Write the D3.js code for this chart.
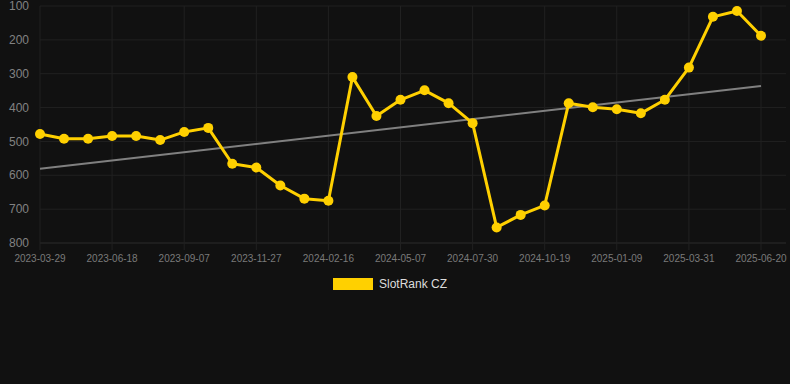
<!DOCTYPE html>
<html><head><meta charset="utf-8">
<script src="https://cdn.jsdelivr.net/npm/d3@7"></script>
<style>html,body{margin:0;padding:0;background:#111111;}svg{display:block;}</style>
</head><body>
<svg id="c" width="790" height="384"></svg>
<script>
const tickLabels = ["2023-03-29","2023-06-18","2023-09-07","2023-11-27","2024-02-16","2024-05-07","2024-07-30","2024-10-19","2025-01-09","2025-03-31","2025-06-20"];
const values = [478,492,492,484,484,496,472,460,566,577,630,669,675,310,425,377,349,387,446,754,717,689,387,399,405,417,377,282,132,115,188];
const trendEnds = [581,336];
const yTicks = [100,200,300,400,500,600,700,800];
const seriesName = "SlotRank CZ";

(function(){
const svg = d3.select("#c");
const mLeft = 40, mRight = 761, mTop = 6, mBottom = 243, gridRight = 786;
const idx = d3.range(values.length);
const x = d3.scalePoint().domain(idx).range([mLeft, mRight]);
const y = d3.scaleLinear().domain([100,800]).range([mTop, mBottom]);

// grid
const g = svg.append("g");
g.selectAll("line.h").data(yTicks).join("line")
  .attr("x1", mLeft).attr("x2", gridRight)
  .attr("y1", d => y(d)).attr("y2", d => y(d))
  .attr("stroke", d => d===800 ? "#2c2c2c" : "#212121").attr("stroke-width", 1);
const labelIdx = tickLabels.map((_, i) => i*3);
g.selectAll("line.v").data(labelIdx).join("line")
  .attr("x1", d => x(d)).attr("x2", d => x(d))
  .attr("y1", mTop).attr("y2", mBottom + 7)
  .attr("stroke", "#212121").attr("stroke-width", 1);

// y labels
svg.append("g").selectAll("text").data(yTicks).join("text")
  .attr("x", 29).attr("y", d => y(d)).attr("dy", "0.35em")
  .attr("text-anchor", "end")
  .attr("font-family", "Liberation Sans, Arial, sans-serif").attr("font-size", 12)
  .attr("fill", "#828282").text(d => d);

// x labels
svg.append("g").selectAll("text").data(tickLabels).join("text")
  .attr("x", (d, i) => x(i*3)).attr("y", 262)
  .attr("text-anchor", "middle")
  .attr("font-family", "Liberation Sans, Arial, sans-serif").attr("font-size", 10)
  .attr("fill", "#7a7a7a").text(d => d);

// trend
svg.append("line")
  .attr("x1", x(0)).attr("y1", y(trendEnds[0]))
  .attr("x2", x(values.length-1)).attr("y2", y(trendEnds[1]))
  .attr("stroke", "#808080").attr("stroke-width", 2);

// series line
const line = d3.line().x((d, i) => x(i)).y(d => y(d));
svg.append("path").datum(values)
  .attr("d", line).attr("fill", "none")
  .attr("stroke", "#FFD000").attr("stroke-width", 3).attr("stroke-linejoin", "round");
svg.append("g").selectAll("circle").data(values).join("circle")
  .attr("cx", (d, i) => x(i)).attr("cy", d => y(d)).attr("r", 5)
  .attr("fill", "#FFD000");

// legend
svg.append("rect").attr("x", 333).attr("y", 278).attr("width", 40).attr("height", 12).attr("fill", "#FFD000");
svg.append("text").attr("x", 379).attr("y", 284).attr("dy", "0.35em")
  .attr("font-family", "Liberation Sans, Arial, sans-serif").attr("font-size", 12)
  .attr("fill", "#dddddd").text(seriesName);
})();
</script>
</body></html>
